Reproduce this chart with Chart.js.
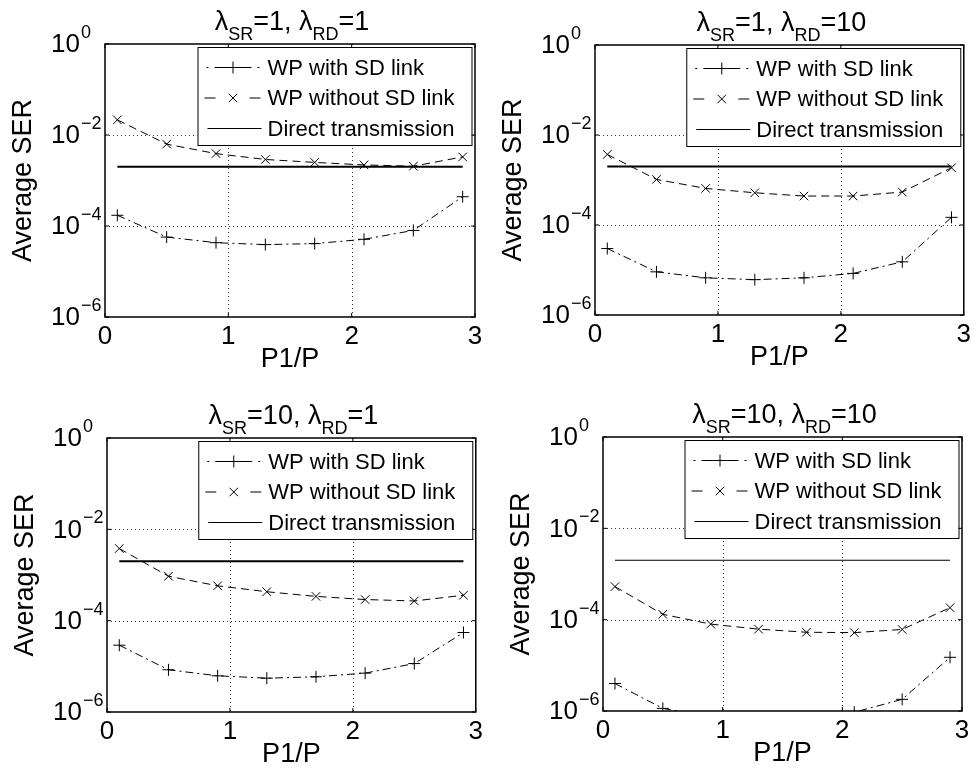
<!DOCTYPE html>
<html>
<head>
<meta charset="utf-8">
<script src="https://cdn.jsdelivr.net/npm/chart.js@4/dist/chart.umd.min.js"></script>
<style>
  html, body { margin: 0; padding: 0; background: #fff; }
  #wrap { position: relative; width: 975px; height: 771px; overflow: hidden; background: #fff; }
  #wrap canvas { position: absolute; }
</style>
</head>
<body>
<div id="wrap"></div>
<script>
// ---- data ----------------------------------------------------------------
const powerRatio = [0.1, 0.5, 0.9, 1.3, 1.7, 2.1, 2.5, 2.9];   // P1/P
const xTickValues = [0, 1, 2, 3];
const yTickValues = [1, 1e-2, 1e-4, 1e-6];
const yTickExponents = ['0', '\u22122', '\u22124', '\u22126'];
const seriesNames = ['WP with SD link', 'WP without SD link', 'Direct transmission'];

// lambda_SR = 1, lambda_RD = 1
const withSD_sr1_rd1    = [1.72e-4, 5.7e-5, 4.3e-5, 3.9e-5, 4.1e-5, 5.1e-5, 8.0e-5, 4.4e-4];
const withoutSD_sr1_rd1 = [2.15e-2, 6.3e-3, 3.9e-3, 2.9e-3, 2.5e-3, 2.2e-3, 2.06e-3, 3.3e-3];
const direct_sr1_rd1    = [2e-3, 2e-3, 2e-3, 2e-3, 2e-3, 2e-3, 2e-3, 2e-3];

// lambda_SR = 1, lambda_RD = 10
const withSD_sr1_rd10    = [3.0e-5, 9.1e-6, 6.7e-6, 6.1e-6, 6.7e-6, 8.4e-6, 1.52e-5, 1.48e-4];
const withoutSD_sr1_rd10 = [3.7e-3, 1.03e-3, 6.5e-4, 5.2e-4, 4.4e-4, 4.4e-4, 5.4e-4, 1.87e-3];
const direct_sr1_rd10    = [2e-3, 2e-3, 2e-3, 2e-3, 2e-3, 2e-3, 2e-3, 2e-3];

// lambda_SR = 10, lambda_RD = 1
const withSD_sr10_rd1    = [2.9e-5, 8.4e-6, 6.2e-6, 5.5e-6, 5.9e-6, 7.1e-6, 1.15e-5, 5.5e-5];
const withoutSD_sr10_rd1 = [3.8e-3, 9.4e-4, 5.8e-4, 4.3e-4, 3.4e-4, 2.9e-4, 2.7e-4, 3.6e-4];
const direct_sr10_rd1    = [2e-3, 2e-3, 2e-3, 2e-3, 2e-3, 2e-3, 2e-3, 2e-3];

// lambda_SR = 10, lambda_RD = 10
const withSD_sr10_rd10    = [4.0e-6, 1.14e-6, 7.5e-7, 6.0e-7, 6.5e-7, 9.4e-7, 1.8e-6, 1.5e-5];
const withoutSD_sr10_rd10 = [5.3e-4, 1.31e-4, 8.0e-5, 6.2e-5, 5.3e-5, 5.2e-5, 6.1e-5, 1.83e-4];
const direct_sr10_rd10    = [2e-3, 2e-3, 2e-3, 2e-3, 2e-3, 2e-3, 2e-3, 2e-3];

// panel titles: [text, isSubscript]
const titles = [
  [['\u03bb', 0], ['SR', 1], ['=1, \u03bb', 0], ['RD', 1], ['=1', 0]],
  [['\u03bb', 0], ['SR', 1], ['=1, \u03bb', 0], ['RD', 1], ['=10', 0]],
  [['\u03bb', 0], ['SR', 1], ['=10, \u03bb', 0], ['RD', 1], ['=1', 0]],
  [['\u03bb', 0], ['SR', 1], ['=10, \u03bb', 0], ['RD', 1], ['=10', 0]]
];

const panelSeries = [
  [withSD_sr1_rd1, withoutSD_sr1_rd1, direct_sr1_rd1],
  [withSD_sr1_rd10, withoutSD_sr1_rd10, direct_sr1_rd10],
  [withSD_sr10_rd1, withoutSD_sr10_rd1, direct_sr10_rd1],
  [withSD_sr10_rd10, withoutSD_sr10_rd10, direct_sr10_rd10]
];

// ---- layout ----------------------------------------------------------------
// canvas rectangle (cx, cy, cw, ch) and axes box (L, T, R, B) in page pixels
const frames = [
  { cx: 0,   cy: 0,   cw: 487, ch: 385, L: 105, T: 44,  R: 475, B: 317, directWidth: 2 },
  { cx: 487, cy: 0,   cw: 488, ch: 385, L: 595, T: 45,  R: 964, B: 315, directWidth: 2 },
  { cx: 0,   cy: 385, cw: 487, ch: 386, L: 107, T: 438, R: 478, B: 712, directWidth: 2 },
  { cx: 487, cy: 385, cw: 488, ch: 386, L: 603, T: 437, R: 962, B: 711, directWidth: 1.2 }
];

const FONT = "'Liberation Sans', Arial, Helvetica, sans-serif";
const TICK_SIZE = 26;
Chart.defaults.font.family = FONT;
Chart.defaults.color = '#000';

const DASH_DOT = [8, 4, 2, 4];
const DASHED = [8, 5];

function drawMarker(ctx, style, x, y, r) {
  ctx.beginPath();
  if (style === 'cross') {
    ctx.moveTo(x - r, y); ctx.lineTo(x + r, y);
    ctx.moveTo(x, y - r); ctx.lineTo(x, y + r);
  } else {
    const d = r * Math.SQRT1_2;
    ctx.moveTo(x - d, y - d); ctx.lineTo(x + d, y + d);
    ctx.moveTo(x - d, y + d); ctx.lineTo(x + d, y - d);
  }
  ctx.stroke();
}

// MATLAB-style axes decorations: dotted grid, box, inward ticks, 10^n labels, title, legend
const matlabAxes = {
  id: 'matlabAxes',
  beforeDatasetsDraw(chart) {
    const { ctx, chartArea: a, scales: { x, y } } = chart;
    ctx.save();
    ctx.strokeStyle = '#333';
    ctx.lineWidth = 1;
    ctx.setLineDash([1, 3]);
    xTickValues.forEach(v => {
      if (v <= x.min || v >= x.max) return;
      const px = Math.round(x.getPixelForValue(v)) + 0.5;
      ctx.beginPath(); ctx.moveTo(px, a.top); ctx.lineTo(px, a.bottom); ctx.stroke();
    });
    yTickValues.forEach(v => {
      if (v <= y.min || v >= y.max) return;
      const py = Math.round(y.getPixelForValue(v)) + 0.5;
      ctx.beginPath(); ctx.moveTo(a.left, py); ctx.lineTo(a.right, py); ctx.stroke();
    });
    ctx.restore();
  },
  afterDatasetsDraw(chart, args, opts) {
    const { ctx, chartArea: a, scales: { x, y } } = chart;
    ctx.save();
    ctx.setLineDash([]);
    ctx.strokeStyle = '#000';
    ctx.fillStyle = '#000';

    // axes box
    ctx.lineWidth = 1.5;
    ctx.strokeRect(a.left, a.top, a.right - a.left, a.bottom - a.top);

    // inward tick marks
    ctx.lineWidth = 1;
    const tl = 4;
    xTickValues.forEach(v => {
      const px = x.getPixelForValue(v);
      ctx.beginPath();
      ctx.moveTo(px, a.bottom); ctx.lineTo(px, a.bottom - tl);
      ctx.moveTo(px, a.top); ctx.lineTo(px, a.top + tl);
      ctx.stroke();
    });
    yTickValues.forEach(v => {
      const py = y.getPixelForValue(v);
      ctx.beginPath();
      ctx.moveTo(a.left, py); ctx.lineTo(a.left + tl, py);
      ctx.moveTo(a.right, py); ctx.lineTo(a.right - tl, py);
      ctx.stroke();
    });

    // y tick labels: "10" with raised exponent
    yTickValues.forEach((v, k) => {
      const py = y.getPixelForValue(v);
      ctx.font = TICK_SIZE + 'px ' + FONT;
      ctx.textAlign = 'right';
      ctx.textBaseline = 'middle';
      ctx.fillText('10', a.left - 25, py + 1);
      ctx.font = '18px ' + FONT;
      ctx.textAlign = 'left';
      ctx.textBaseline = 'alphabetic';
      ctx.fillText(yTickExponents[k], a.left - 24, py - 6);
    });

    // title with subscripts
    const parts = opts.title;
    const mainFont = '27px ' + FONT, subFont = '18px ' + FONT;
    let total = 0;
    parts.forEach(([t, sub]) => { ctx.font = sub ? subFont : mainFont; total += ctx.measureText(t).width; });
    let tx = (a.left + a.right) / 2 - total / 2 + 2;
    const base = a.top - 14;
    ctx.textAlign = 'left';
    ctx.textBaseline = 'alphabetic';
    parts.forEach(([t, sub]) => {
      ctx.font = sub ? subFont : mainFont;
      ctx.fillText(t, tx, sub ? base + 10 : base);
      tx += ctx.measureText(t).width;
    });

    // legend
    const lw = 274, lh = 98;
    const lx = a.right - 3.5 - lw, ly = a.top + 3;
    ctx.fillStyle = '#fff';
    ctx.fillRect(lx, ly, lw, lh);
    ctx.strokeStyle = '#000';
    ctx.lineWidth = 1;
    ctx.strokeRect(lx + 0.5, ly + 0.5, lw, lh);
    ctx.fillStyle = '#000';
    ctx.font = '22px ' + FONT;
    ctx.textBaseline = 'middle';
    const rows = [ly + 20.5, ly + 51, ly + 81.5];
    const mx = lx + 35.5;
    // dash-dot with plus
    ctx.beginPath();
    ctx.moveTo(lx + 9, rows[0]); ctx.lineTo(lx + 11, rows[0]);
    ctx.moveTo(lx + 17, rows[0]); ctx.lineTo(lx + 54, rows[0]);
    ctx.moveTo(lx + 60, rows[0]); ctx.lineTo(lx + 62, rows[0]);
    ctx.stroke();
    drawMarker(ctx, 'cross', mx, rows[0], 6);
    // dashed with x
    ctx.beginPath();
    ctx.moveTo(lx + 7, rows[1]); ctx.lineTo(lx + 18, rows[1]);
    ctx.moveTo(lx + 52, rows[1]); ctx.lineTo(lx + 63, rows[1]);
    ctx.stroke();
    drawMarker(ctx, 'crossRot', mx, rows[1], 6);
    // solid
    ctx.lineWidth = 1.2;
    ctx.beginPath();
    ctx.moveTo(lx + 10, rows[2]); ctx.lineTo(lx + 64, rows[2]);
    ctx.stroke();
    seriesNames.forEach((n, k) => ctx.fillText(n, lx + 70, rows[k] + 1));

    ctx.restore();
  }
};

const wrap = document.getElementById('wrap');

frames.forEach((f, i) => {
  const cv = document.createElement('canvas');
  cv.width = f.cw; cv.height = f.ch;
  cv.style.left = f.cx + 'px'; cv.style.top = f.cy + 'px';
  cv.style.width = f.cw + 'px'; cv.style.height = f.ch + 'px';
  wrap.appendChild(cv);

  const padLeft = 5;
  const yAxisWidth = f.L - f.cx - padLeft;
  const xAxisHeight = f.cy + f.ch - f.B;
  const yTitlePad = (f.L - 81 - f.cx) - padLeft - 27 * 1.2 / 2;
  const xTitlePad = (f.cy + f.ch) - (f.B + 43) - 27 * 1.2 / 2;
  const [withSD, withoutSD, direct] = panelSeries[i];
  const pts = arr => powerRatio.map((p, k) => ({ x: p, y: arr[k] }));

  new Chart(cv, {
    type: 'line',
    data: {
      datasets: [
        {
          label: seriesNames[0], data: pts(withSD),
          borderColor: '#000', borderWidth: 1, borderDash: DASH_DOT,
          pointStyle: 'cross', pointRadius: 6, pointBorderWidth: 1,
          pointBorderColor: '#000', pointBackgroundColor: '#000',
          fill: false, tension: 0
        },
        {
          label: seriesNames[1], data: pts(withoutSD),
          borderColor: '#000', borderWidth: 1, borderDash: DASHED,
          pointStyle: 'crossRot', pointRadius: 6, pointBorderWidth: 1,
          pointBorderColor: '#000', pointBackgroundColor: '#000',
          fill: false, tension: 0
        },
        {
          label: seriesNames[2], data: pts(direct),
          borderColor: '#000', borderWidth: f.directWidth,
          pointRadius: 0, fill: false, tension: 0
        }
      ]
    },
    options: {
      responsive: false,
      animation: false,
      devicePixelRatio: 1,
      events: [],
      layout: { padding: { left: padLeft, top: f.T - f.cy, right: f.cx + f.cw - f.R, bottom: 0 } },
      plugins: {
        legend: { display: false },
        tooltip: { enabled: false },
        title: { display: false },
        matlabAxes: { title: titles[i] }
      },
      scales: {
        x: {
          type: 'linear', min: 0, max: 3,
          afterBuildTicks: s => { s.ticks = xTickValues.map(v => ({ value: v })); },
          ticks: { font: { size: TICK_SIZE }, padding: 4, color: '#000', maxRotation: 0, autoSkip: false },
          grid: { display: false, drawTicks: false },
          border: { display: false },
          title: { display: true, text: 'P1/P', font: { size: 27 }, color: '#000', padding: { top: 0, bottom: xTitlePad } },
          afterFit: s => { s.height = xAxisHeight; }
        },
        y: {
          type: 'logarithmic', min: 1e-6, max: 1,
          ticks: { display: false },
          grid: { display: false, drawTicks: false },
          border: { display: false },
          title: { display: true, text: 'Average SER', font: { size: 27 }, color: '#000', padding: { top: yTitlePad, bottom: 0 } },
          afterFit: s => { s.width = yAxisWidth; }
        }
      }
    },
    plugins: [matlabAxes]
  });
});
</script>
</body>
</html>
